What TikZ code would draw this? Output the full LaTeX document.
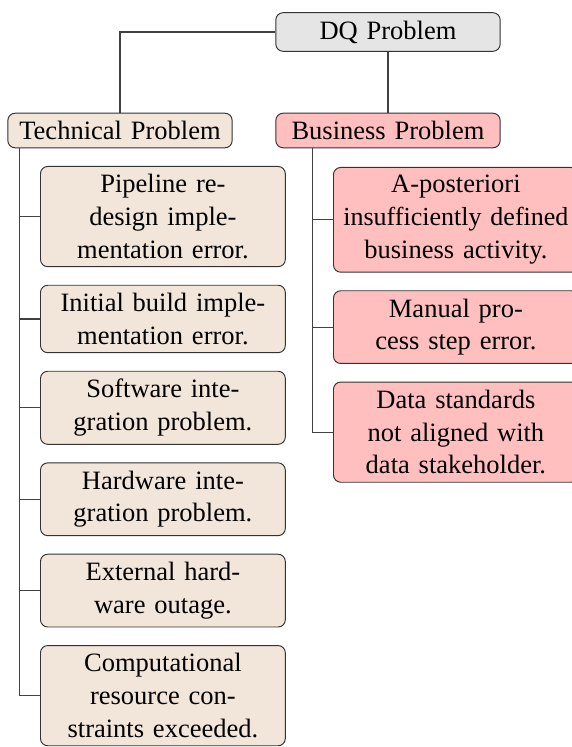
\documentclass[tikz,border=0pt]{standalone}
\usepackage{fontspec}
\setmainfont{Liberation Serif}
\usetikzlibrary{calc,positioning}

\tikzset{
  probbox/.style={draw=black!80, rounded corners=3pt, align=center, inner sep=3.3pt,
    font=\fontsize{11}{13.6}\selectfont},
  topbox/.style={probbox, fill=gray!20, text width=86.5pt},
  techbox/.style={probbox, fill=brown!20, text width=95pt},
  busbox/.style={probbox, fill=red!25, text width=95pt},
  link/.style={draw=black!75, line width=0.5pt}
}

\begin{document}
\begin{tikzpicture}[x=0.415pt, y=-0.415pt, node distance=7.3pt]
		%%%%% START %%%%%
		\useasboundingbox (0, 0) rectangle (571, 747);
		
		\node[topbox] (dq) at (388, 32) {DQ Problem};
		\node[topbox, fill=brown!20] (tech) at (120, 130.5) {Technical Problem};
		\node[topbox, fill=red!25] (bus) at (388, 130.5) {Business Problem};
		
		\draw[link] (dq.west) -| (tech.north);
		\draw[link] (dq.south) -- (bus.north);
		
		% technical side
		\node[techbox, anchor=north west] (pipe) at (40, 166) {Pipeline re-\\design imple-\\mentation error.};
		\node[techbox, below=of pipe] (init) {Initial build imple-\\mentation error.};
		\node[techbox, below=of init] (soft) {Software inte-\\gration problem.};
		\node[techbox, below=of soft] (hard) {Hardware inte-\\gration problem.};
		\node[techbox, below=of hard] (ext) {External hard-\\ware outage.};
		\node[techbox, below=of ext] (comp) {Computational\\resource con-\\straints exceeded.};
		
		\coordinate (techtrunk) at ($(tech.south west)+(12, 0)$);
		\foreach \c in {pipe, init, soft, hard, ext, comp}
			\draw[link] (techtrunk) |- (\c.west);
		
		% business side
		\node[busbox, anchor=north west] (apost) at (333, 167) {A-posteriori\\\mbox{\fontsize{10.8}{13.6}\selectfont insufficiently defined}\\business activity.};
		\node[busbox, below=of apost] (manual) {Manual pro-\\cess step error.};
		\node[busbox, below=of manual] (stand) {Data standards\\not aligned with\\data stakeholder.};
		
		\coordinate (bustrunk) at ($(bus.south west)+(37, 0)$);
		\foreach \c in {apost, manual, stand}
			\draw[link] (bustrunk) |- (\c.west);
		
		%%%%% END %%%%%
\end{tikzpicture}
\end{document}
